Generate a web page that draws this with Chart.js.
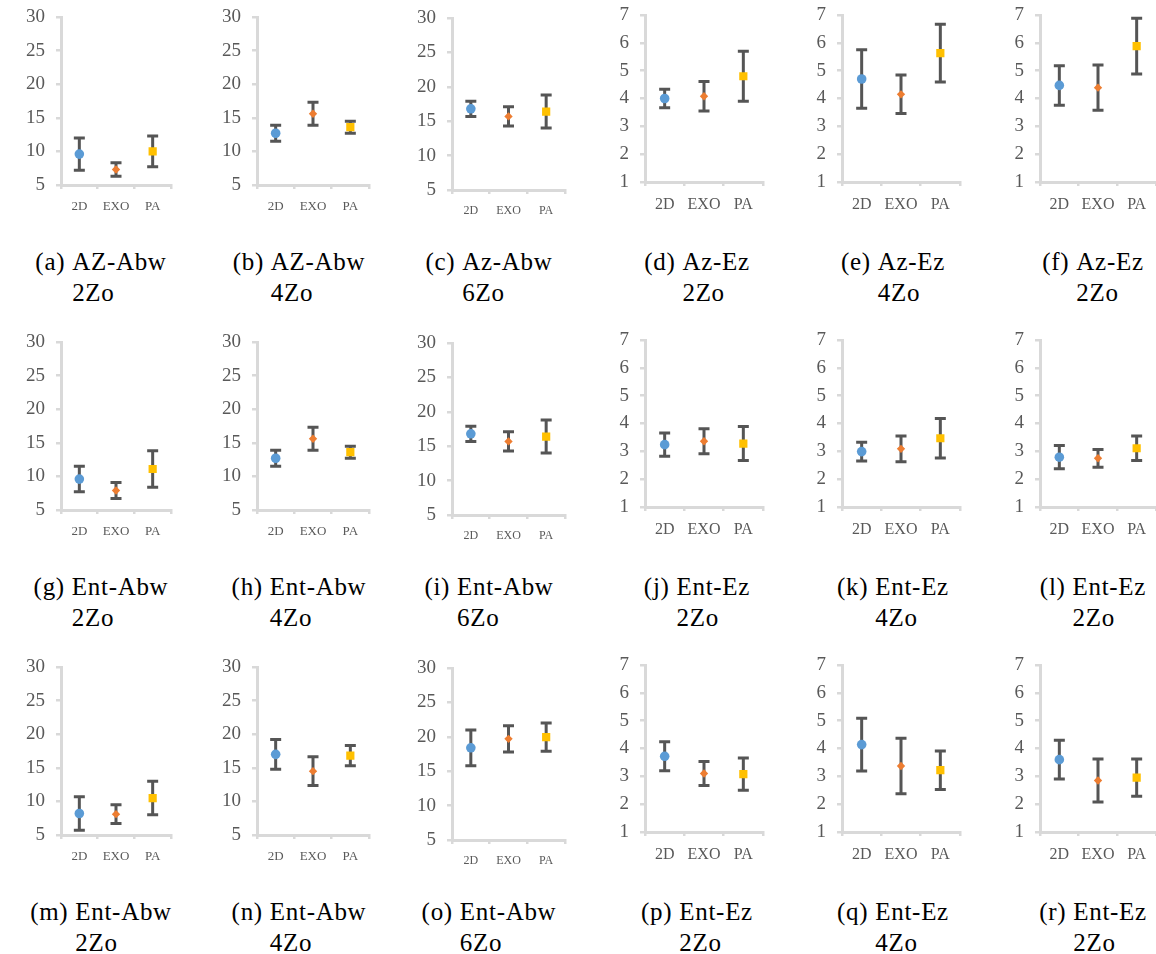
<!DOCTYPE html>
<html>
<head>
<meta charset="utf-8">
<script src="https://cdn.jsdelivr.net/npm/chart.js@4.4.1/dist/chart.umd.min.js"></script>
<style>
  html, body { margin: 0; padding: 0; background: #fff; }
  #page { position: relative; width: 1156px; height: 954px; overflow: hidden; }
  canvas { position: absolute; }
  .cap {
    position: absolute; transform: translateX(-50%); white-space: nowrap;
    font-family: "Liberation Serif", "DejaVu Serif", serif; font-size: 25px; line-height: 31px;
    color: #000; letter-spacing: 0.7px;
  }
  .cap span { display: inline-block; vertical-align: top; }
</style>
</head>
<body>
<div id="page"></div>
<script>
const categories = ['2D', 'EXO', 'PA'];
const panelLetters = ['a','b','c','d','e','f','g','h','i','j','k','l','m','n','o','p','q','r'];
const panelNames = ['AZ-Abw','AZ-Abw','Az-Abw','Az-Ez','Az-Ez','Az-Ez',
                    'Ent-Abw','Ent-Abw','Ent-Abw','Ent-Ez','Ent-Ez','Ent-Ez',
                    'Ent-Abw','Ent-Abw','Ent-Abw','Ent-Ez','Ent-Ez','Ent-Ez'];
const panelZones = ['2Zo','4Zo','6Zo','2Zo','4Zo','2Zo',
                    '2Zo','4Zo','6Zo','2Zo','4Zo','2Zo',
                    '2Zo','4Zo','6Zo','2Zo','4Zo','2Zo'];

// mean values per panel (2D, EXO, PA)
const means = [
  [9.6, 7.3, 10.0], [12.7, 15.6, 13.6], [16.8, 15.7, 16.4],
  [4.0, 4.08, 4.8], [4.7, 4.15, 5.63], [4.47, 4.39, 5.88],
  [9.6, 7.9, 11.1], [12.7, 15.6, 13.6], [16.8, 15.7, 16.4],
  [3.24, 3.36, 3.28], [2.99, 3.09, 3.47], [2.79, 2.75, 3.11],
  [8.2, 8.1, 10.5], [17.0, 14.5, 16.8], [18.4, 19.7, 19.95],
  [3.72, 3.1, 3.08], [4.14, 3.37, 3.22], [3.6, 2.85, 2.95]
];
// error (half-length of the bar) per panel
const errors = [
  [2.4, 1.0, 2.3], [1.2, 1.7, 0.9], [1.1, 1.4, 2.4],
  [0.33, 0.53, 0.9], [1.05, 0.69, 1.04], [0.71, 0.81, 1.0],
  [1.9, 1.2, 2.7], [1.2, 1.7, 0.9], [1.1, 1.4, 2.4],
  [0.42, 0.45, 0.61], [0.34, 0.46, 0.71], [0.42, 0.32, 0.44],
  [2.5, 1.4, 2.5], [2.2, 2.15, 1.5], [2.6, 1.9, 2.05],
  [0.52, 0.43, 0.58], [0.95, 1.0, 0.69], [0.7, 0.77, 0.67]
];
const abwTicks = [5, 10, 15, 20, 25, 30];
const ezTicks = [1, 2, 3, 4, 5, 6, 7];

const markerColors = ['#5B9BD5', '#ED7D31', '#FFC000'];
const markerStyles = ['circle', 'rectRot', 'rect'];
const markerSizes = [4.8, 4.2, 5.8];

Chart.defaults.font.family = '"Liberation Serif", "DejaVu Serif", serif';
Chart.defaults.color = '#595959';

// layout of the grid
const axisX = [61, 257, 452, 645, 842, 1040];
const plotW = [110, 112, 113, 118, 118, 116];
const capCenter = [101, 299, 489, 697, 893, 1093];
const yAxisW = 56;

const errorBars = {
  id: 'errorBars',
  beforeDatasetsDraw(chart) {
    const ctx = chart.ctx;
    const x = chart.scales.x, y = chart.scales.y;
    const ds = chart.data.datasets[0];
    ctx.save();
    ctx.strokeStyle = '#555555';
    ctx.lineWidth = 3;
    ds.data.forEach((v, i) => {
      const cx = x.getPixelForValue(i);
      const top = y.getPixelForValue(v + ds.errors[i]);
      const bot = y.getPixelForValue(v - ds.errors[i]);
      ctx.beginPath();
      ctx.moveTo(cx, top); ctx.lineTo(cx, bot);
      ctx.moveTo(cx - 5.5, top); ctx.lineTo(cx + 5.5, top);
      ctx.moveTo(cx - 5.5, bot); ctx.lineTo(cx + 5.5, bot);
      ctx.stroke();
    });
    ctx.restore();
  }
};

const page = document.getElementById('page');

for (let p = 0; p < 18; p++) {
  const row = Math.floor(p / 6), col = p % 6;
  const isEz = col >= 3;
  const tickVals = isEz ? ezTicks : abwTicks;
  const rowTop = row * 325;
  const plotTop = isEz ? 15 : (col === 2 ? 18 : 17);
  const plotBottom = isEz ? 182 : (col === 2 ? 190 : 185);
  const xAxisH = 40;
  const cw = yAxisW + plotW[col] + 10;
  const ch = plotBottom + xAxisH;

  const cv = document.createElement('canvas');
  cv.width = cw; cv.height = ch;
  cv.style.left = (axisX[col] - yAxisW) + 'px';
  cv.style.top = rowTop + 'px';
  cv.style.width = cw + 'px'; cv.style.height = ch + 'px';
  page.appendChild(cv);

  const xFont = isEz ? 16 : (col === 2 ? 12 : 13);

  new Chart(cv, {
    type: 'line',
    data: {
      labels: categories,
      datasets: [{
        data: means[p],
        errors: errors[p],
        showLine: false,
        pointStyle: markerStyles,
        pointRadius: markerSizes,
        pointHoverRadius: markerSizes,
        pointBackgroundColor: markerColors,
        pointBorderColor: markerColors,
        pointBorderWidth: 0
      }]
    },
    options: {
      responsive: false,
      devicePixelRatio: 1,
      animation: false,
      events: [],
      layout: { padding: { top: plotTop, right: 10, bottom: 0, left: 0 } },
      plugins: { legend: { display: false }, tooltip: { enabled: false } },
      scales: {
        x: {
          offset: true,
          afterFit(s) { s.height = xAxisH; s.paddingLeft = 0; s.paddingRight = 0; },
          grid: { offset: true, drawOnChartArea: false, drawTicks: true, tickLength: 4, color: '#D9D9D9', lineWidth: 2.5 },
          border: { color: '#D9D9D9', width: 3 },
          ticks: { font: { size: xFont }, padding: isEz ? 9 : 10, color: '#595959', maxRotation: 0 }
        },
        y: {
          min: tickVals[0],
          max: tickVals[tickVals.length - 1],
          afterBuildTicks(s) { s.ticks = tickVals.map(v => ({ value: v })); },
          afterFit(s) { s.width = yAxisW; s.paddingTop = 0; s.paddingBottom = 0; },
          grid: { drawOnChartArea: false, drawTicks: true, tickLength: 5, color: '#D9D9D9', lineWidth: 2.5 },
          border: { color: '#D9D9D9', width: 3 },
          ticks: { font: { size: 19 }, padding: 11, color: '#595959' }
        }
      }
    },
    plugins: [errorBars]
  });

  const cap = document.createElement('div');
  cap.className = 'cap';
  cap.style.left = capCenter[col] + 'px';
  cap.style.top = (rowTop + 246) + 'px';
  cap.innerHTML = '<span>(' + panelLetters[p] + ')&nbsp;</span><span>' +
    panelNames[p] + '<br>' + panelZones[p] + '</span>';
  page.appendChild(cap);
}
</script>
</body>
</html>
